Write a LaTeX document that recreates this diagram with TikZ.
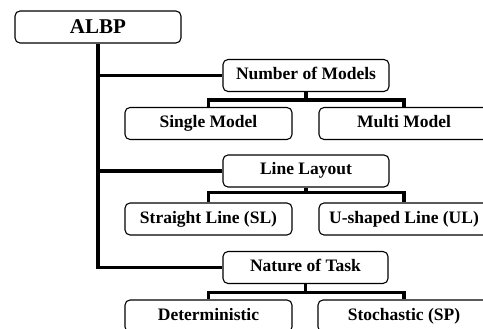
\documentclass[tikz,border=0pt]{standalone}
\usepackage{fontspec}
\setmainfont{Liberation Serif}
\usetikzlibrary{calc}

\begin{document}
\begin{tikzpicture}[
  x=1pt,y=-1pt,
  topic/.style={draw,rounded corners=5pt,line width=1.1pt,minimum height=32pt,
    inner sep=0pt,text height=12pt,text depth=4pt,
    font=\fontsize{17.5}{20}\selectfont\bfseries},
  link/.style={line width=3.6pt}
]
  \useasboundingbox (0,0) rectangle (483,329);

  \node[topic,minimum width=166pt,font=\fontsize{21}{24}\selectfont\bfseries,
    text height=14pt,text depth=1pt] (albp) at (98,27) {ALBP};

  \node[topic,minimum width=166pt] (models) at (306,75.5) {Number of Models};
  \node[topic,minimum width=167pt] (single) at (208.5,123.5) {Single Model};
  \node[topic,minimum width=170pt] (multi) at (404,123.5) {Multi Model};

  \node[topic,minimum width=166pt] (layout) at (306,171) {Line Layout};
  \node[topic,minimum width=167pt] (straight) at (208.5,219) {Straight Line (SL)};
  \node[topic,minimum width=170pt] (ushaped) at (404,219) {U-shaped Line (UL)};

  \node[topic,minimum width=165pt] (nature) at (305.5,267.5) {Nature of Task};
  \node[topic,minimum width=167pt] (determ) at (208.5,316) {Deterministic};
  \node[topic,minimum width=172pt] (stoch) at (404,316) {Stochastic (SP)};

  % trunk and branches
  \draw[link] (albp.south) |- (nature.west);
  \draw[link] (albp.south |- models.west) -- (models.west);
  \draw[link] (albp.south |- layout.west) -- (layout.west);

  % second level
  \draw[link] (models.south) -- ++(0,8) coordinate (modelsj);
  \draw[link] (single.north) |- (modelsj) -| (multi.north);
  \draw[link] (layout.south) -- ++(0,5) coordinate (layoutj);
  \draw[link] (straight.north) |- (layoutj) -| (ushaped.north);
  \draw[link] (nature.south) -- ++(0,8.5) coordinate (naturej);
  \draw[link] (determ.north) |- (naturej) -| (stoch.north);
\end{tikzpicture}
\end{document}
